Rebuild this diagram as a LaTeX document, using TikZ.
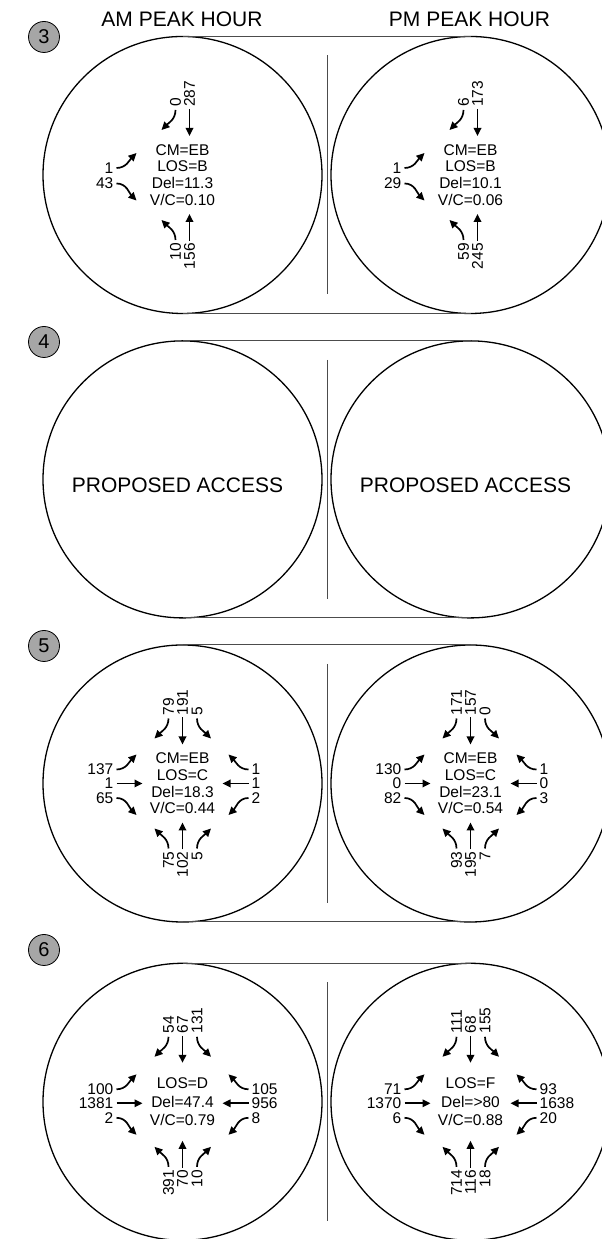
\documentclass[tikz,border=0pt]{standalone}
\usepackage{fontspec}
\setmainfont{Liberation Sans}
\usetikzlibrary{arrows.meta}
% movement macros: #1 node name, #2 volume
\newcommand\aNR[2]{\node[vlab,anchor=west] (#1) at (-14,68) {#2};
  \draw[mv] ([yshift=-3pt]#1.west) to[out=-90,in=45] ++(-14,-20);}
\newcommand\aNT[2]{\node[vlab,anchor=west] (#1) at (0,68) {#2};
  \draw[mv] ([yshift=-2pt]#1.west) -- ++(0,-27);}
\newcommand\aNL[2]{\node[vlab,anchor=west] (#1) at (14.5,68) {#2};
  \draw[mv] ([yshift=-3pt]#1.west) to[out=-90,in=135] ++(14,-20);}
\newcommand\aSL[2]{\node[vlab,anchor=east] (#1) at (-14,-68) {#2};
  \draw[mv] ([yshift=3pt]#1.east) to[out=90,in=-45] ++(-14,20);}
\newcommand\aST[2]{\node[vlab,anchor=east] (#1) at (0,-68) {#2};
  \draw[mv] ([yshift=2pt]#1.east) -- ++(0,27);}
\newcommand\aSR[2]{\node[vlab,anchor=east] (#1) at (14.5,-68) {#2};
  \draw[mv] ([yshift=3pt]#1.east) to[out=90,in=225] ++(14,20);}
\newcommand\aWL[2]{\node[lab,anchor=east] (#1) at (-69,14) {#2};
  \draw[mv] ([xshift=3pt]#1.east) to[out=0,in=225] ++(20,15);}
\newcommand\aWT[2]{\node[lab,anchor=east] (#1) at (-69,0) {#2};
  \draw[mv] ([xshift=3pt]#1.east) -- ++(26,0);}
\newcommand\aWR[2]{\node[lab,anchor=east] (#1) at (-69,-14.5) {#2};
  \draw[mv] ([xshift=3pt]#1.east) to[out=0,in=135] ++(20,-17);}
\newcommand\aER[2]{\node[lab,anchor=west] (#1) at (69,14) {#2};
  \draw[mv] ([xshift=-3pt]#1.west) to[out=180,in=-45] ++(-20,15);}
\newcommand\aET[2]{\node[lab,anchor=west] (#1) at (69,0) {#2};
  \draw[mv] ([xshift=-3pt]#1.west) -- ++(-26,0);}
\newcommand\aEL[2]{\node[lab,anchor=west] (#1) at (69,-14.5) {#2};
  \draw[mv] ([xshift=-3pt]#1.west) to[out=180,in=45] ++(-20,-17);}
% frame of one panel: #1 = centre y, #2 = badge y, #3 = number
\newcommand\panelframe[3]{%
  \draw[ring] (182.5,#1) ellipse [x radius=139.5, y radius=138.5];
  \draw[ring] (470.5,#1) ellipse [x radius=139.5, y radius=138.5];
  \draw[tieline] (182.5,{#1+138.5}) -- (470.5,{#1+138.5});
  \draw[tieline] (182.5,{#1-138.5}) -- (470.5,{#1-138.5});
  \draw[sepline] (327,{#1+119.5}) -- (327,{#1-119.5});
  \node[badge] (b#3) at (44,#2) {#3};
}
\begin{document}
\begin{tikzpicture}[x=1pt,y=1pt,
  ring/.style={line width=1.3pt},
  tieline/.style={line width=1pt, draw=black!70},
  sepline/.style={line width=0.9pt, draw=black!70},
  badge/.style={circle, draw, line width=0.8pt, fill=black!35, minimum size=31pt, inner sep=0pt, font=\fontsize{20}{20}\selectfont},
  hdr/.style={font=\fontsize{21}{24}\selectfont, inner sep=0pt},
  info/.style={font=\fontsize{15.5}{16.7}\selectfont, align=center, inner sep=0pt},
  infosix/.style={font=\fontsize{15.5}{18.5}\selectfont, align=center, inner sep=0pt},
  lab/.style={font=\fontsize{15.5}{15.5}\selectfont, inner sep=0pt},
  vlab/.style={lab, rotate=90},
  mv/.style={line width=1.7pt, -{Triangle[length=8pt,width=7.5pt]}},
]
\useasboundingbox (0,0) rectangle (602,1239);

\node[hdr, anchor=base] (hAM) at (182,1212.3) {AM PEAK HOUR};
\node[hdr, anchor=base] (hPM) at (469.5,1212.3) {PM PEAK HOUR};

% ---------- panel 3 ----------
\panelframe{1064}{1202}{3}
\begin{scope}[shift={(182.5,1064)}]
  \node[info] (i3a) at (0,0) {CM=EB\\LOS=B\\Del=11.3\\V/C=0.10};
  \begin{scope}[xshift=7pt]
    \aNR{p3aN1}{0}\aNT{p3aN2}{287}
    \aSL{p3aS1}{10}\aST{p3aS2}{156}
  \end{scope}
  \begin{scope}[yshift=-7pt]\aWL{p3aW1}{1}\end{scope}
  \begin{scope}[yshift=6pt]\aWR{p3aW2}{43}\end{scope}
\end{scope}
\begin{scope}[shift={(470.5,1064)}]
  \node[info] (i3b) at (0,0) {CM=EB\\LOS=B\\Del=10.1\\V/C=0.06};
  \begin{scope}[xshift=7pt]
    \aNR{p3bN1}{6}\aNT{p3bN2}{173}
    \aSL{p3bS1}{59}\aST{p3bS2}{245}
  \end{scope}
  \begin{scope}[yshift=-7pt]\aWL{p3bW1}{1}\end{scope}
  \begin{scope}[yshift=6pt]\aWR{p3bW2}{29}\end{scope}
\end{scope}

% ---------- panel 4 ----------
\panelframe{759.6}{897}{4}
\node[hdr] (p4a) at (177.5,754) {PROPOSED ACCESS};
\node[hdr] (p4b) at (465.5,754) {PROPOSED ACCESS};

% ---------- panel 5 ----------
\panelframe{455.5}{593}{5}
\begin{scope}[shift={(182.5,455.5)}]
  \node[info] (i5a) at (0,0) {CM=EB\\LOS=C\\Del=18.3\\V/C=0.44};
  \aNR{p5aN1}{79}\aNT{p5aN2}{191}\aNL{p5aN3}{5}
  \aSL{p5aS1}{75}\aST{p5aS2}{102}\aSR{p5aS3}{5}
  \aWL{p5aW1}{137}\aWT{p5aW2}{1}\aWR{p5aW3}{65}
  \aER{p5aE1}{1}\aET{p5aE2}{1}\aEL{p5aE3}{2}
\end{scope}
\begin{scope}[shift={(470.5,455.5)}]
  \node[info] (i5b) at (0,0) {CM=EB\\LOS=C\\Del=23.1\\V/C=0.54};
  \aNR{p5bN1}{171}\aNT{p5bN2}{157}\aNL{p5bN3}{0}
  \aSL{p5bS1}{93}\aST{p5bS2}{195}\aSR{p5bS3}{7}
  \aWL{p5bW1}{130}\aWT{p5bW2}{0}\aWR{p5bW3}{82}
  \aER{p5bE1}{1}\aET{p5bE2}{0}\aEL{p5bE3}{3}
\end{scope}

% ---------- panel 6 ----------
\panelframe{137.2}{289}{6}
\begin{scope}[shift={(182.5,137.2)}]
  \node[infosix] (i6a) at (0,0) {LOS=D\\Del=47.4\\V/C=0.79};
  \aNR{p6aN1}{54}\aNT{p6aN2}{67}\aNL{p6aN3}{131}
  \aSL{p6aS1}{391}\aST{p6aS2}{70}\aSR{p6aS3}{10}
  \begin{scope}[yshift=-1.5pt]
    \aWL{p6aW1}{100}\aWT{p6aW2}{1381}\aWR{p6aW3}{2}
    \aER{p6aE1}{105}\aET{p6aE2}{956}\aEL{p6aE3}{8}
  \end{scope}
\end{scope}
\begin{scope}[shift={(470.5,137.2)}]
  \node[infosix] (i6b) at (0,0) {LOS=F\\Del=>80\\V/C=0.88};
  \aNR{p6bN1}{111}\aNT{p6bN2}{68}\aNL{p6bN3}{155}
  \aSL{p6bS1}{714}\aST{p6bS2}{116}\aSR{p6bS3}{18}
  \begin{scope}[yshift=-1.5pt]
    \aWL{p6bW1}{71}\aWT{p6bW2}{1370}\aWR{p6bW3}{6}
    \aER{p6bE1}{93}\aET{p6bE2}{1638}\aEL{p6bE3}{20}
  \end{scope}
\end{scope}
\end{tikzpicture}
\end{document}
